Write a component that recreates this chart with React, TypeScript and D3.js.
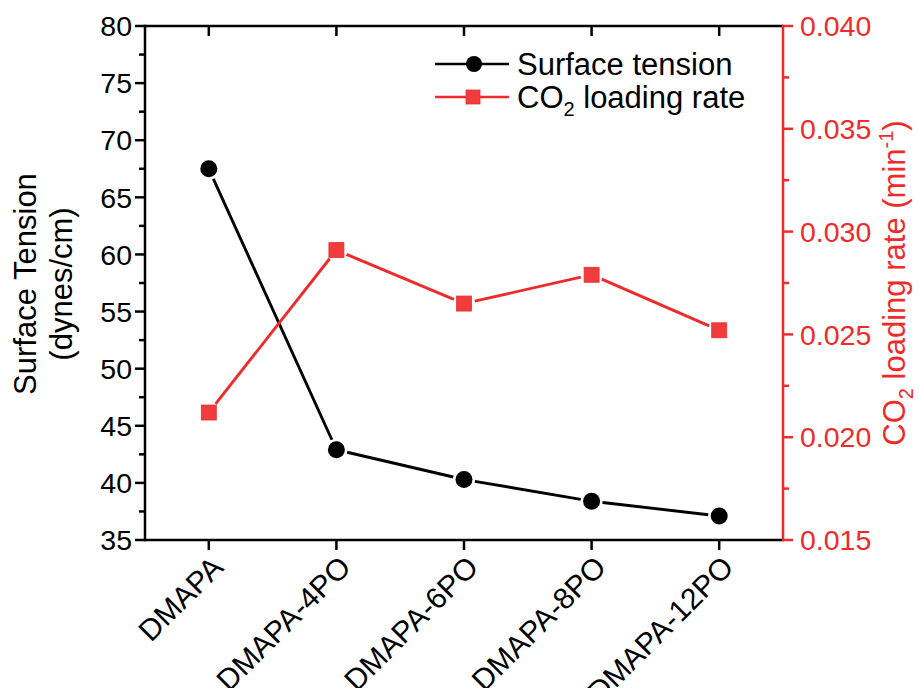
import React from 'react';
import * as d3 from 'd3';

// categories and values
const categories = ['DMAPA', 'DMAPA-4PO', 'DMAPA-6PO', 'DMAPA-8PO', 'DMAPA-12PO'];
const surfaceTension = [67.5, 42.9, 40.3, 38.4, 37.1];
const loadingRate = [0.0212, 0.0291, 0.0265, 0.0279, 0.0252];
const leftTicks = [35, 40, 45, 50, 55, 60, 65, 70, 75, 80];
const rightTicks = [0.015, 0.02, 0.025, 0.03, 0.035, 0.04];

const W = 919;
const H = 688;
const margin = { top: 26, right: 136, bottom: 148, left: 145 };
const FONT = '"Liberation Sans", Arial, Helvetica, sans-serif';
const RED = '#ee2b2b';
const MARK_RED = '#f03c3c';

// draw a polyline as separate segments with a small gap at each marker (Origin style)
function gappedSegments(pts: [number, number][], gap: number) {
  const segs: string[] = [];
  for (let i = 0; i < pts.length - 1; i++) {
    const [x1, y1] = pts[i];
    const [x2, y2] = pts[i + 1];
    const len = Math.hypot(x2 - x1, y2 - y1);
    if (len <= gap * 2) continue;
    const ux = (x2 - x1) / len;
    const uy = (y2 - y1) / len;
    segs.push(`M${x1 + ux * gap},${y1 + uy * gap}L${x2 - ux * gap},${y2 - uy * gap}`);
  }
  return segs.join('');
}

export default function App() {
  const innerW = W - margin.left - margin.right;
  const innerH = H - margin.top - margin.bottom;

  const x = d3.scalePoint<string>().domain(categories).range([0, innerW]).padding(0.5);
  const yL = d3.scaleLinear().domain([35, 80]).range([innerH, 0]);
  const yR = d3.scaleLinear().domain([0.015, 0.04]).range([innerH, 0]);

  const leftMinor = leftTicks.slice(0, -1).map((t) => t + 2.5);
  const rightMinor = rightTicks.slice(0, -1).map((t) => t + 0.0025);

  const stPts: [number, number][] = categories.map((c, i) => [x(c)!, yL(surfaceTension[i])]);
  const lrPts: [number, number][] = categories.map((c, i) => [x(c)!, yR(loadingRate[i])]);

  const sw = 2.5;

  return (
    <svg width={W} height={H} style={{ position: 'absolute', left: 0, top: 0 }} fontFamily={FONT}>
      <rect width={W} height={H} fill="white" />
      <g transform={`translate(${margin.left},${margin.top})`}>
        {/* lines */}
        <path d={gappedSegments(stPts, 11)} stroke="black" strokeWidth={2.9} fill="none" />
        <path d={gappedSegments(lrPts, 11)} stroke={RED} strokeWidth={2.9} fill="none" />
        {stPts.map(([px, py], i) => (
          <circle key={'c' + i} cx={px} cy={py} r={8.5} fill="black" />
        ))}
        {lrPts.map(([px, py], i) => (
          <rect key={'s' + i} x={px - 7.5} y={py - 7.5} width={15} height={15} fill={MARK_RED} stroke="#e83030" strokeWidth={0.8} />
        ))}

        {/* frame */}
        <line x1={0} x2={innerW} y1={0} y2={0} stroke="black" strokeWidth={sw} />
        <line x1={0} x2={innerW} y1={innerH} y2={innerH} stroke="black" strokeWidth={sw} />
        <line x1={0} x2={0} y1={-sw / 2} y2={innerH + sw / 2} stroke="black" strokeWidth={sw} />
        <line x1={innerW} x2={innerW} y1={-sw / 2} y2={innerH + sw / 2} stroke={RED} strokeWidth={sw} />

        {/* bottom + top ticks */}
        {categories.map((c) => (
          <g key={c}>
            <line x1={x(c)} x2={x(c)} y1={innerH} y2={innerH + 10} stroke="black" strokeWidth={sw} />
            <line x1={x(c)} x2={x(c)} y1={0} y2={10} stroke="black" strokeWidth={sw} />
            <text
              transform={`translate(${x(c)! + 1},${innerH + 14}) rotate(-45)`}
              textAnchor="end"
              dy="0.71em"
              fontSize={30}
              fill="black"
            >
              {c}
            </text>
          </g>
        ))}

        {/* left axis */}
        {leftTicks.map((t) => (
          <g key={'l' + t}>
            <line x1={-10} x2={0} y1={yL(t)} y2={yL(t)} stroke="black" strokeWidth={sw} />
            <text x={-13} y={yL(t)} dy="0.36em" textAnchor="end" fontSize={28.5} fill="black">
              {t}
            </text>
          </g>
        ))}
        {leftMinor.map((t) => (
          <line key={'lm' + t} x1={-6} x2={0} y1={yL(t)} y2={yL(t)} stroke="black" strokeWidth={sw} />
        ))}

        {/* right axis */}
        {rightTicks.map((t) => (
          <g key={'r' + t}>
            <line x1={innerW} x2={innerW + 10} y1={yR(t)} y2={yR(t)} stroke={RED} strokeWidth={sw} />
            <text x={innerW + 17} y={yR(t)} dy="0.36em" textAnchor="start" fontSize={28.5} fill={RED}>
              {d3.format('.3f')(t)}
            </text>
          </g>
        ))}
        {rightMinor.map((t) => (
          <line key={'rm' + t} x1={innerW} x2={innerW + 6} y1={yR(t)} y2={yR(t)} stroke={RED} strokeWidth={sw} />
        ))}
      </g>

      {/* axis titles */}
      <text transform="translate(36,284) rotate(-90)" textAnchor="middle" fontSize={31} fill="black">
        Surface Tension
      </text>
      <text transform="translate(72,284) rotate(-90)" textAnchor="middle" fontSize={31} fill="black">
        (dynes/cm)
      </text>
      <text transform="translate(905,283) rotate(-90)" textAnchor="middle" fontSize={31} fill={RED}>
        CO<tspan fontSize={20} dy="8">2</tspan>
        <tspan dy="-8"> loading rate (min</tspan>
        <tspan fontSize={20} dy="-12">-1</tspan>
        <tspan dy="12">)</tspan>
      </text>

      {/* legend */}
      <g>
        <line x1={435} x2={509} y1={64} y2={64} stroke="black" strokeWidth={2.5} />
        <circle cx={474} cy={64} r={8} fill="black" />
        <text x={517} y={75} fontSize={31} fill="black">
          Surface tension
        </text>
        <line x1={435} x2={509} y1={97} y2={97} stroke={RED} strokeWidth={2.5} />
        <rect x={466} y={90} width={14} height={14} fill={MARK_RED} stroke="#e83030" strokeWidth={0.8} />
        <text x={517} y={108} fontSize={31} fill="black">
          CO<tspan fontSize={20} dy="8">2</tspan>
          <tspan dy="-8"> loading rate</tspan>
        </text>
      </g>
    </svg>
  );
}
